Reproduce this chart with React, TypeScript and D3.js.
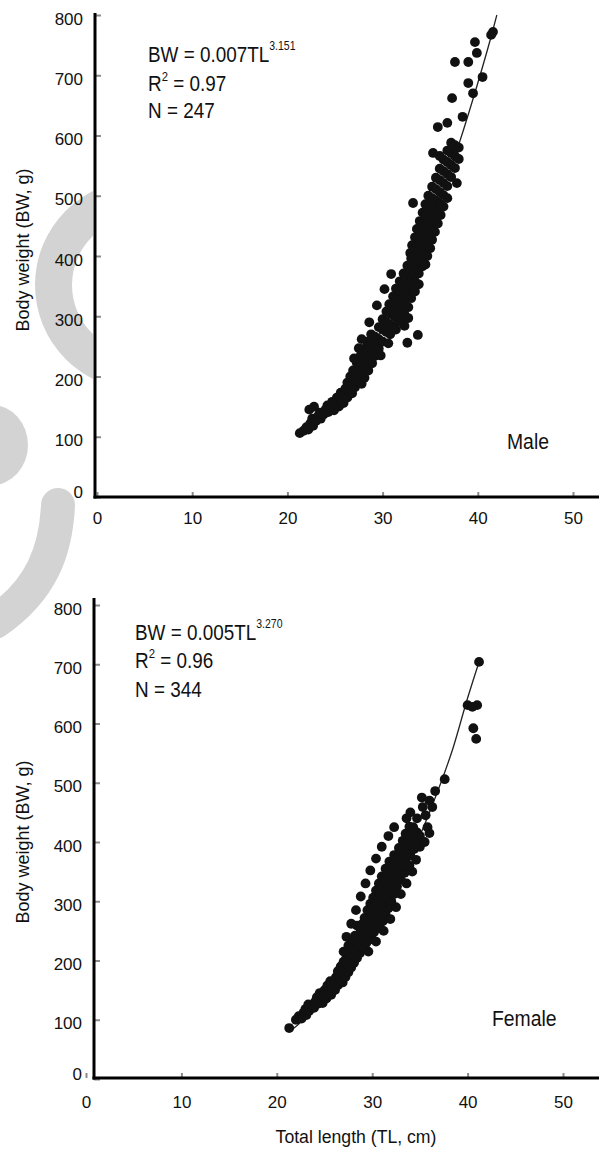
import React, { useEffect, useRef } from "react";
import * as d3 from "d3";

// [total length (cm), body weight (g)]
const malePoints: [number, number][] = [
  [21.3, 106], [21.7, 110], [22.0, 116], [22.2, 112], [22.4, 122], [22.3, 145], [22.7, 118], [22.6, 130],
  [22.8, 150], [23.0, 126], [23.2, 134], [23.5, 130], [23.4, 140], [23.8, 137], [24.0, 145], [24.3, 141],
  [24.2, 152], [24.6, 148], [24.9, 144], [24.7, 158], [25.1, 155], [25.4, 150], [25.2, 165], [25.6, 161],
  [25.9, 156], [25.6, 173], [26.0, 169], [26.3, 165], [26.1, 180], [26.5, 176], [26.8, 172],
  [26.3, 190], [26.7, 186], [27.1, 182], [26.6, 200], [27.0, 196], [27.4, 192], [27.8, 188], [26.9, 210],
  [27.3, 206], [27.7, 202], [28.1, 198], [27.3, 222], [27.7, 218], [28.1, 214], [28.5, 210], [27.5, 247],
  [27.7, 235], [28.1, 230], [28.5, 226], [28.9, 222], [28.0, 246], [28.4, 242], [28.8, 238], [29.2, 234],
  [28.4, 258], [28.8, 254], [29.2, 250], [29.6, 246], [28.8, 270], [29.2, 266], [29.6, 262], [30.0, 258],
  [27.0, 230], [27.8, 262], [28.6, 290], [29.4, 318], [30.2, 345], [30.9, 370], [29.8, 235], [30.6, 255],
  [31.4, 278], [32.3, 284],
  [29.6, 282], [30.0, 278], [30.4, 274], [30.8, 270], [30.0, 295], [30.4, 290], [30.8, 286], [31.2, 282],
  [30.4, 308], [30.8, 304], [31.2, 300], [31.6, 295], [32.0, 290], [30.7, 320], [31.1, 316], [31.5, 312],
  [31.9, 308], [32.3, 303], [31.1, 333], [31.5, 329], [31.9, 325], [32.3, 320], [32.7, 315], [31.4, 346],
  [31.8, 342], [32.2, 338], [32.6, 334], [33.0, 330], [31.8, 358], [32.2, 354], [32.6, 350], [33.0, 346],
  [33.4, 341], [32.2, 371], [32.6, 367], [33.0, 363], [33.4, 358], [33.8, 353], [32.6, 384], [33.0, 380],
  [33.4, 376], [33.8, 371], [33.0, 396], [33.4, 392], [33.8, 388], [34.2, 383],
  [32.6, 256], [33.7, 269], [32.7, 297],
  [32.9, 405], [33.3, 400], [33.7, 396], [34.1, 391], [34.5, 386], [33.1, 418], [33.5, 414], [33.9, 410],
  [34.3, 405], [34.7, 400], [33.4, 431], [33.8, 427], [34.2, 423], [34.6, 418], [35.0, 413], [33.6, 445],
  [34.0, 441], [34.4, 437], [34.8, 432], [35.2, 427], [33.9, 458], [34.3, 454], [34.7, 450], [35.1, 446],
  [35.5, 440], [34.2, 472], [34.6, 468], [35.0, 464], [35.4, 459], [35.8, 454], [34.5, 486], [34.9, 482],
  [35.3, 478], [35.7, 473], [36.1, 468], [33.2, 488], [34.8, 500], [35.2, 496], [35.6, 492], [36.0, 487],
  [36.4, 482], [35.2, 515], [35.6, 511], [36.0, 506], [36.4, 501], [36.8, 496], [35.6, 530], [36.0, 526],
  [36.4, 521], [36.8, 516], [37.8, 521], [36.0, 545], [36.4, 541], [36.8, 536], [37.2, 531], [36.4, 560],
  [36.8, 556], [37.2, 551], [37.6, 546], [35.3, 571], [36.0, 566], [36.8, 575], [37.2, 571], [37.6, 566],
  [38.0, 561], [37.2, 588], [37.6, 584], [38.0, 580],
  [35.8, 614], [36.8, 621], [38.4, 631], [37.3, 662], [39.5, 670], [39.0, 687], [40.5, 697], [37.6, 722],
  [39.0, 722], [39.9, 737], [39.7, 755], [41.6, 772], [41.4, 767],
];

// fitted curve BW = 0.007TL^3.151
const maleFit: [number, number][] = [
  [21.3, 100], [24.9, 156], [28.0, 226], [31.2, 315], [34.3, 426], [37.5, 561], [39.6, 666], [41.6, 776], [42.0, 800],
];

const femalePoints: [number, number][] = [
  [21.3, 86], [22.0, 100], [22.3, 106], [22.6, 102], [22.8, 112], [23.1, 108], [23.0, 118], [23.4, 115],
  [23.6, 122], [23.3, 126], [23.9, 120], [24.0, 130], [24.3, 127], [24.2, 138], [24.6, 134], [24.8, 128],
  [24.5, 145],
  [24.9, 140], [25.2, 136], [25.0, 150], [25.4, 146], [25.7, 142], [25.3, 158], [25.8, 155], [26.1, 150],
  [25.6, 165], [26.0, 162], [26.4, 158], [26.2, 172], [26.6, 168], [26.9, 163], [26.4, 182], [26.8, 178],
  [27.2, 172], [26.7, 190], [27.1, 186], [27.5, 180], [27.0, 198], [27.4, 194], [27.8, 188], [27.3, 205],
  [27.7, 202], [28.1, 196], [27.6, 214], [28.0, 210], [28.4, 204],
  [27.5, 225], [27.9, 220], [28.3, 216], [28.7, 212], [28.0, 232], [28.4, 228], [28.8, 224], [29.2, 220],
  [28.2, 242], [28.6, 238], [29.0, 234], [29.4, 230], [28.4, 259], [28.8, 250], [29.2, 246], [29.6, 242],
  [30.0, 236], [29.0, 262], [29.4, 258], [29.8, 254], [30.2, 248], [29.2, 272], [29.6, 270], [30.0, 266],
  [30.4, 260], [30.8, 255], [29.5, 285], [29.9, 280], [30.3, 276], [30.7, 272], [31.1, 266], [29.8, 296],
  [30.2, 292], [30.6, 288], [31.0, 284], [31.4, 278], [30.1, 306], [30.5, 302], [30.9, 298], [31.3, 294],
  [31.7, 288],
  [27.0, 215], [27.3, 240], [27.8, 262], [28.3, 285], [28.8, 308], [29.3, 330], [29.8, 352], [30.4, 372],
  [31.0, 392], [31.7, 410], [32.3, 425], [29.6, 215], [30.4, 232], [31.2, 250], [31.9, 270], [32.5, 290],
  [33.0, 312], [33.6, 330], [34.2, 350], [34.6, 370], [35.0, 392],
  [30.4, 318], [30.8, 314], [31.2, 310], [31.6, 305], [32.0, 300], [30.7, 330], [31.1, 326], [31.5, 322],
  [31.9, 317], [32.3, 312], [31.0, 342], [31.4, 338], [31.8, 334], [32.2, 330], [32.6, 325], [31.4, 355],
  [31.8, 350], [32.2, 346], [32.6, 342], [33.0, 336], [31.8, 367], [32.2, 362], [32.6, 358], [33.0, 354],
  [33.4, 348], [32.3, 378], [32.7, 374], [33.1, 370], [33.5, 366], [33.9, 360], [32.8, 390], [33.2, 386],
  [33.6, 382], [34.0, 377], [33.2, 402], [33.6, 398], [34.0, 394], [34.4, 388], [33.5, 414], [33.9, 410],
  [34.3, 406], [34.7, 400], [33.9, 426], [34.3, 421], [34.7, 416], [35.0, 410], [35.5, 400], [35.8, 425],
  [36.0, 415],
  [33.6, 440], [34.7, 440], [34.3, 425], [34.0, 450], [35.6, 445], [36.0, 470], [35.2, 475], [35.3, 459],
  [36.3, 459], [36.6, 486], [37.6, 506],
  [40.6, 592], [40.9, 574], [40.0, 631], [41.0, 631], [40.5, 628], [41.2, 704],
];

// fitted curve BW = 0.005TL^3.270
const femaleFit: [number, number][] = [
  [21.3, 80], [22.1, 90], [24.3, 124], [27.6, 186], [29.8, 240], [33.0, 338], [35.2, 418], [36.3, 462],
  [38.5, 560], [40.0, 643], [41.2, 704],
];

const xTicks = [0, 10, 20, 30, 40, 50];
const yTicks = [0, 100, 200, 300, 400, 500, 600, 700, 800];

const FONT = "'Liberation Sans', Arial, sans-serif";

const panels = [
  {
    points: malePoints, fit: maleFit,
    xRange: [97, 573], yRange: [497, 15], axisX: 95, axisTop: 13, axisY: 497, xPad: 15,
    eq: ["BW = 0.007TL", "3.151"], r2: "0.97", n: "247", noteX: 148, noteY: [62, 91, 118],
    label: "Male", labelX: 507, labelY: 449, titleY: 250,
  },
  {
    points: femalePoints, fit: femaleFit,
    xRange: [86, 563], yRange: [1079, 605], axisX: 94, axisTop: 598, axisY: 1078, xPad: 18,
    eq: ["BW = 0.005TL", "3.270"], r2: "0.96", n: "344", noteX: 135, noteY: [640, 668, 697],
    label: "Female", labelX: 492, labelY: 1026, titleY: 842,
  },
];

export default function App() {
  const svgRef = useRef<SVGSVGElement>(null);

  useEffect(() => {
    const svg = d3.select(svgRef.current);
    svg.selectAll("*").remove();

    // grey watermark at the left edge
    svg.append("clipPath").attr("id", "wmclip")
      .append("rect").attr("x", 0).attr("y", 0).attr("width", 93).attr("height", 1152);
    const wm = svg.append("g").attr("fill", "#d3d3d3").attr("clip-path", "url(#wmclip)");
    wm.append("path")
      .attr("transform", "translate(140,285)")
      .attr("d", d3.arc()({ innerRadius: 68, outerRadius: 105, startAngle: 0, endAngle: 2 * Math.PI }) as string);
    wm.append("ellipse").attr("cx", -8).attr("cy", 445).attr("rx", 36).attr("ry", 40);
    wm.append("path")
      .attr("d", "M 58 505 C 56 550, 42 590, -5 622")
      .attr("fill", "none").attr("stroke", "#d3d3d3").attr("stroke-width", 34).attr("stroke-linecap", "round");

    panels.forEach((p) => {
      const x = d3.scaleLinear().domain([0, 50]).range(p.xRange);
      const y = d3.scaleLinear().domain([0, 800]).range(p.yRange);
      const g = svg.append("g");

      // y axis ticks + labels
      g.append("g")
        .attr("transform", `translate(${p.axisX},0)`)
        .call(d3.axisLeft(y).tickValues(yTicks).tickSize(-6).tickPadding(12))
        .call((a) => a.select(".domain").remove())
        .call((a) => a.selectAll(".tick line").attr("stroke", "#8a8a8a").attr("stroke-width", 2))
        .call((a) => a.selectAll<SVGTextElement, number>(".tick text")
          .attr("font-family", FONT).attr("font-size", 17).attr("fill", "#111")
          .attr("dy", (d) => (d === 0 ? "0.05em" : "0.53em")));

      // x axis ticks + labels
      g.append("g")
        .attr("transform", `translate(0,${p.axisY})`)
        .call(d3.axisBottom(x).tickValues(xTicks).tickSize(-5).tickPadding(p.xPad))
        .call((a) => a.select(".domain").remove())
        .call((a) => a.selectAll(".tick line").attr("stroke", "#8a8a8a").attr("stroke-width", 2))
        .call((a) => a.selectAll(".tick text")
          .attr("font-family", FONT).attr("font-size", 17).attr("fill", "#111"));

      // axis lines
      g.append("line")
        .attr("x1", p.axisX).attr("x2", p.axisX).attr("y1", p.axisTop).attr("y2", p.axisY + 1.5)
        .attr("stroke", "#000").attr("stroke-width", 3);
      g.append("line")
        .attr("x1", p.axisX - 1.5).attr("x2", 599).attr("y1", p.axisY).attr("y2", p.axisY)
        .attr("stroke", "#000").attr("stroke-width", 3);

      // fitted line
      const line = d3.line<[number, number]>()
        .x((d) => x(d[0]))
        .y((d) => y(d[1]))
        .curve(d3.curveMonotoneX);
      g.append("path")
        .datum(p.fit)
        .attr("d", line)
        .attr("fill", "none")
        .attr("stroke", "#222")
        .attr("stroke-width", 1.3);

      // points
      g.append("g")
        .selectAll("circle")
        .data(p.points)
        .join("circle")
        .attr("cx", (d) => x(d[0]))
        .attr("cy", (d) => y(d[1]))
        .attr("r", 4.9)
        .attr("fill", "#111");

      // equation block, condensed like the original narrow face
      const note = g.append("g")
        .attr("transform", `translate(${p.noteX},0) scale(0.84,1)`)
        .attr("font-family", FONT).attr("font-size", 22.5).attr("fill", "#111");
      const t1 = note.append("text").attr("x", 0).attr("y", p.noteY[0]);
      t1.append("tspan").text(p.eq[0]);
      t1.append("tspan").attr("font-size", 12.5).attr("dy", -12).text(p.eq[1]);
      const t2 = note.append("text").attr("x", 0).attr("y", p.noteY[1]);
      t2.append("tspan").text("R");
      t2.append("tspan").attr("font-size", 13.5).attr("dy", -10).text("2");
      t2.append("tspan").attr("dy", 10).text(` = ${p.r2}`);
      note.append("text").attr("x", 0).attr("y", p.noteY[2]).text(`N = ${p.n}`);

      g.append("text")
        .attr("transform", `translate(${p.labelX},${p.labelY}) scale(0.88,1)`)
        .attr("font-family", FONT).attr("font-size", 22).attr("fill", "#111")
        .text(p.label);

      // y axis title
      g.append("text")
        .attr("transform", `translate(29,${p.titleY}) rotate(-90)`)
        .attr("text-anchor", "middle")
        .attr("font-family", FONT).attr("font-size", 18).attr("fill", "#111")
        .text("Body weight (BW, g)");
    });

    svg.append("text")
      .attr("transform", "translate(356,1143) scale(0.93,1)")
      .attr("text-anchor", "middle")
      .attr("font-family", FONT).attr("font-size", 19).attr("fill", "#111")
      .text("Total length (TL, cm)");
  }, []);

  return (
    <svg
      ref={svgRef}
      width={599}
      height={1152}
      style={{ position: "absolute", left: 0, top: 0, background: "#fff" }}
    />
  );
}
